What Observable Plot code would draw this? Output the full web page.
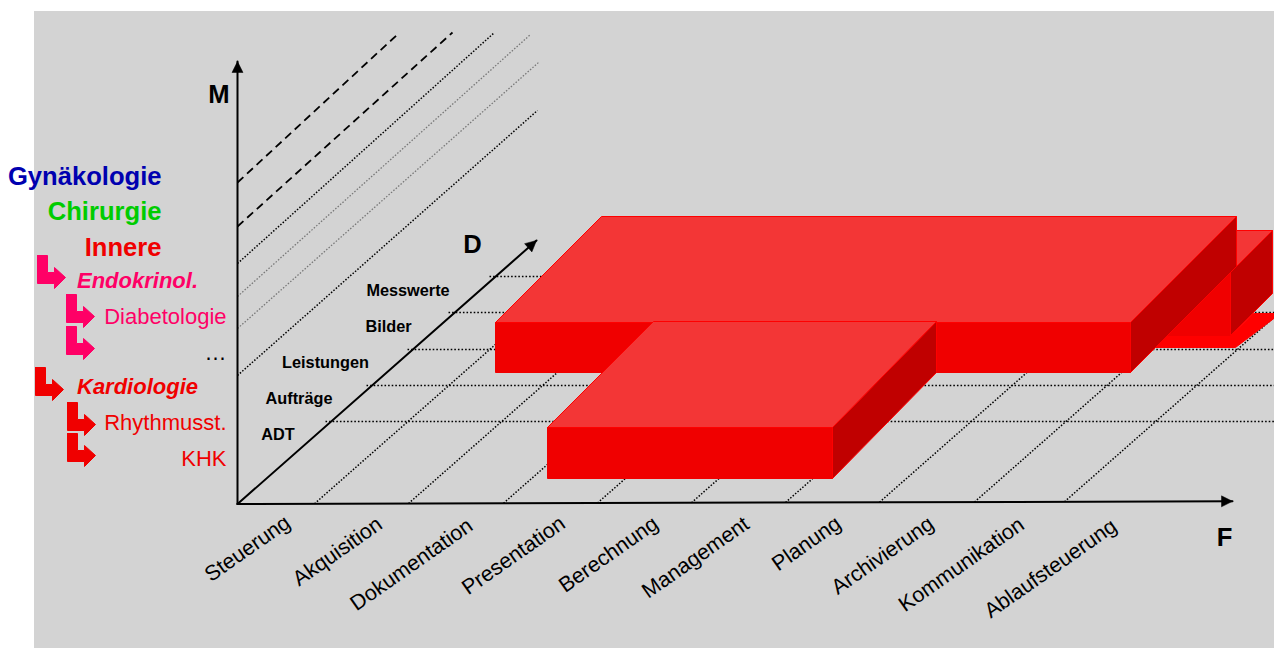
<!DOCTYPE html>
<html>
<head>
<meta charset="utf-8">
<script src="https://cdn.jsdelivr.net/npm/d3@7"></script>
<script src="https://cdn.jsdelivr.net/npm/@observablehq/plot@0.6"></script>
<style>
  html, body { margin: 0; padding: 0; background: #fff; overflow: hidden; }
  svg { display: block; }
</style>
</head>
<body>
<div id="chart"></div>
<script>
// Oblique function / data / department cube, laid out in sheet units.
const functionLabels = ["Steuerung", "Akquisition", "Dokumentation", "Presentation", "Berechnung",
  "Management", "Planung", "Archivierung", "Kommunikation", "Ablaufsteuerung"];
const functionLabelX = [247, 337, 411, 513, 608, 695, 806, 882, 961, 1050];
const functionLabelY = [548, 551, 564, 555, 554, 557, 543, 555, 564, 568];

const functionTicks = [314, 408, 503, 597, 691, 785, 879, 974, 1064];
const functionTickY = [503.2, 503, 502.7, 502.5, 502.2, 502, 501.7, 501.5, 501.2];

const dataLabels = ["ADT", "Aufträge", "Leistungen", "Bilder", "Messwerte"];
const dataLabelX = [277.5, 298.5, 325, 388, 407.5];
const dataLabelY = [434, 398, 362, 326, 290];
const dataRowY = [421, 385, 349, 312, 276];
const dataRowStart = [325, 366, 407, 448, 489];

// Department levels on the vertical axis and where each one runs out in depth.
const levelDashed = [[182, 398, 33], [226, 452, 32]];
const levelDark = [[263, 494, 32], [375, 537, 110]];
const levelGrey = [[296, 530, 34], [328, 538, 62]];

const departmentsBold = [["Gynäkologie", 176, "#0000B0"], ["Chirurgie", 211, "#00CC00"], ["Innere", 247, "#F00000"]];
const sectionsItalic = [["Endokrinol.", 280.5, "#FF0066"], ["Kardiologie", 386.5, "#F00000"]];
const unitsPlain = [["Diabetologie", 316.5, "#FF0066"], ["…", 352, "#000000"],
  ["Rhythmusst.", 422.5, "#F00000"], ["KHK", 458.5, "#F00000"]];
const bentArrows = [[37, 255, "#FF0066"], [66, 294, "#FF0066"], [66, 326, "#FF0066"],
  [35, 367, "#F00000"], [67, 402, "#F00000"], [67, 433, "#F00000"]];

// Coverage blocks, back to front: left, right, front top, front bottom,
// depth across at the left edge, depth up, depth across at the right edge.
const blockBack = [1130, 1230, 272, 335, 42, 42, 42];
const blockMain = [495, 1130, 322, 372, 106, 106, 106];
const blockFront = [547, 832, 427, 478, 106, 106, 104];
const coverageFloor = [[1130, 335], [1230, 335], [1253, 313], [1280, 313], [1235, 347], [1130, 347], [1130, 335]];

const BACKDROP = "#D3D3D3";
const EDGE = "#FF0000";
const FACE_TOP = "#F33636";
const FACE_FRONT = "#F00000";
const FACE_SIDE = "#C00000";

const xy = pts => pts.map(([x, y]) => ({x, y}));
const polygon = (pts, fill, stroke = fill, strokeWidth = 1) =>
  Plot.line(xy(pts), {x: "x", y: "y", fill, stroke, strokeWidth, strokeLinejoin: "miter"});

function blockFaces([l, r, t, b, dxL, dy, dxR]) {
  return [
    polygon([[l, t], [r, t], [r, b], [l, b], [l, t]], FACE_FRONT),
    polygon([[r, t], [r + dxR, t - dy], [r + dxR, b - dy], [r, b], [r, t]], FACE_SIDE, EDGE),
    polygon([[l, t], [l + dxL, t - dy], [r + dxR, t - dy], [r, t], [l, t]], FACE_TOP, EDGE)
  ];
}

// Filled arrow head pointing from the shaft towards the tip.
function arrowHead([bx, by], [tx, ty]) {
  const len = Math.hypot(tx - bx, ty - by);
  const ux = (tx - bx) / len, uy = (ty - by) / len;
  const h = 11, w = 5.5;
  const cx = tx - ux * h, cy = ty - uy * h;
  return polygon([[tx, ty], [cx - uy * w, cy + ux * w], [cx + uy * w, cy - ux * w], [tx, ty]], "#000", "#000", 0.5);
}

function axis(from, to) {
  return [
    Plot.line(xy([from, to]), {x: "x", y: "y", stroke: "#000", strokeWidth: 2}),
    arrowHead(from, to)
  ];
}

function bentArrow([x, y, color]) {
  const shape = [[0, 0], [10, 0], [10, 17], [17, 17], [17, 12], [28, 22], [17, 33], [17, 28], [0, 28], [0, 0]];
  return polygon(shape.map(([a, b]) => [x + a, y + b]), color);
}

const FONT = "'Liberation Sans', Arial, sans-serif";

const levelLines = (rows, stroke, strokeDasharray, strokeWidth) =>
  rows.map(([y0, x1, y1]) => Plot.line(xy([[237, y0], [x1, y1]]),
    {x: "x", y: "y", stroke, strokeDasharray, strokeWidth, strokeLinecap: "butt"}));

const listing = (rows, textAnchor, x, fontSize, extra = {}) =>
  Plot.text(rows, {x: () => x, y: d => d[1], text: d => d[0], fill: d => d[2], textAnchor,
    lineAnchor: "middle", fontSize, fontFamily: FONT, ...extra});

const axisTitles = [["M", 218.5, 94], ["D", 472, 244], ["F", 1224, 537]];

const chart = Plot.plot({
  width: 1274,
  height: 648,
  margin: 0,
  x: {domain: [0, 1274], range: [0, 1274], axis: null},
  y: {domain: [0, 648], range: [0, 648], axis: null},
  style: {background: "transparent", fontFamily: FONT},
  marks: [
    Plot.rect([{x1: 34, x2: 1274, y1: 11, y2: 648}], {x1: "x1", x2: "x2", y1: "y1", y2: "y2", fill: BACKDROP}),

    // department levels rising from the vertical axis
    ...levelLines(levelDashed, "#000", "8,5", 1.8),
    ...levelLines(levelDark, "#000", "1.5,1.7", 1.5),
    ...levelLines(levelGrey, "#777", "1.5,1.7", 1.3),

    // floor grid: one row per data type, one line per function
    Plot.link(dataRowY, {x1: (_, i) => dataRowStart[i], x2: () => 1274, y1: d => d, y2: d => d,
      stroke: "#000", strokeWidth: 1.3, strokeDasharray: "1.6,2"}),
    Plot.link(functionTicks, {x1: d => d, x2: d => d + 258, y1: (_, i) => functionTickY[i], y2: (_, i) => functionTickY[i] - 227,
      stroke: "#000", strokeWidth: 1.5, strokeDasharray: "1.5,1.7"}),

    // coverage blocks
    polygon(coverageFloor, EDGE),
    ...blockFaces(blockBack),
    ...blockFaces(blockMain),
    ...blockFaces(blockFront),

    // axes
    ...axis([237, 503.5], [237, 61]),
    ...axis([237, 503.5], [536, 240]),
    ...axis([237, 503.5], [1232, 500.8]),

    // labels
    Plot.text(axisTitles, {x: d => d[1], y: d => d[2], text: d => d[0], fontSize: 25.6, fontWeight: "bold",
      fontFamily: FONT, fill: "#000", lineAnchor: "middle"}),
    Plot.text(dataLabels, {x: (_, i) => dataLabelX[i], y: (_, i) => dataLabelY[i], text: d => d,
      fontSize: 16.3, fontWeight: "bold", fontFamily: FONT, fill: "#000", lineAnchor: "middle"}),
    Plot.text(functionLabels, {x: (_, i) => functionLabelX[i], y: (_, i) => functionLabelY[i], text: d => d,
      rotate: -35, fontSize: 21.4, fontFamily: FONT, fill: "#000", lineAnchor: "middle"}),

    // department tree on the left
    ...bentArrows.map(bentArrow),
    listing(departmentsBold, "end", 161, 25.6, {fontWeight: "bold"}),
    listing(sectionsItalic, "start", 76.5, 22, {fontWeight: "bold", fontStyle: "italic"}),
    listing(unitsPlain, "end", 226, 22)
  ]
});

document.getElementById("chart").append(chart);
</script>
</body>
</html>
